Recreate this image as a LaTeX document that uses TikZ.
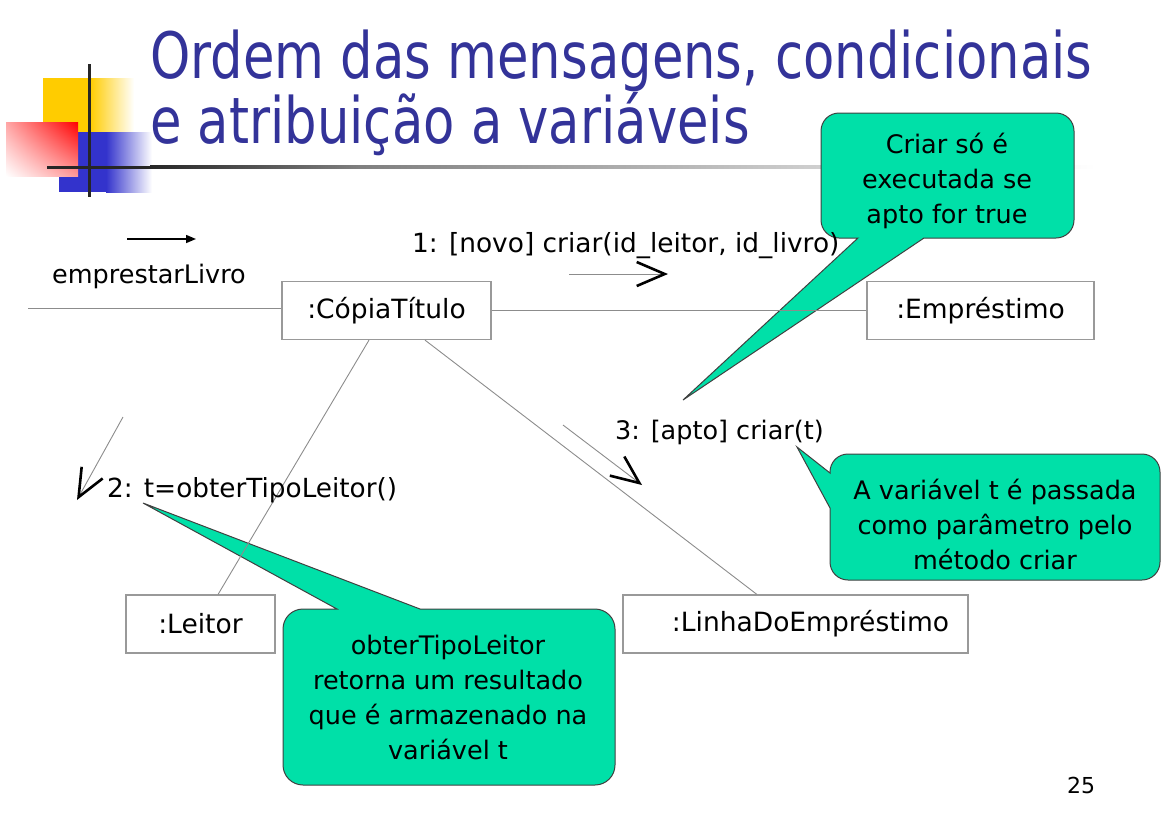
\documentclass[tikz,border=0pt]{standalone}
\usepackage{fontspec}
\setmainfont{DejaVu Sans}
\newfontfamily\headfont{DejaVu Sans}[FakeStretch=0.8]
\usetikzlibrary{arrows.meta,shadings}
\definecolor{headblue}{RGB}{51,51,153}
\definecolor{notegreen}{RGB}{0,224,168}
\definecolor{logoyellow}{RGB}{255,204,0}
\definecolor{logoblue}{RGB}{51,51,204}
\definecolor{logored}{RGB}{255,0,0}
\definecolor{boxgray}{RGB}{153,153,153}

\begin{document}
\begin{tikzpicture}[x=1pt,y=-1pt,
  every node/.style={inner sep=0pt, font=\fontsize{25.5}{35}\selectfont},
  objbox/.style={draw=boxgray, line width=1.2pt, fill=white, minimum height=58pt, inner sep=0pt,
    font=\fontsize{26.5}{35}\selectfont},
  link/.style={draw=black!45, line width=0.9pt},
  msgline/.style={draw=black!45, line width=0.9pt,
    -{Straight Barb[length=28pt,width=24pt,line width=2.6pt,color=black]}},
  note/.style={fill=notegreen, draw=black!75, line width=1pt},
  notetext/.style={align=center, text=black, font=\fontsize{25.5}{35}\selectfont},
  msglabel/.style={anchor=base west, text=black},
  headline/.style={anchor=base west, text=headblue, font=\headfont\fontsize{64}{64}\selectfont}]

\useasboundingbox (0,0) rectangle (1163,812);

% ---- slide decoration ----
\fill[logoyellow] (43,78) rectangle (90,132);
\shade[left color=logoyellow, right color=white] (90,78) rectangle (134,132);
\fill[logoblue] (59,132) rectangle (106,192);
\shade[left color=logoblue, right color=white] (106,132) rectangle (152,192);
\shade[upper left=red!35, upper right=logored, lower left=white, lower right=red!40]
  (6,122) rectangle (78,176);
\draw[line width=3pt, black!85] (89,64) -- (89,197);
\fill[black!85] (47,165.5) rectangle (150,168.5);
\shade[left color=black!85, right color=black!50] (150,165.5) rectangle (360,168.5);
\shade[left color=black!50, right color=white] (360,165.5) rectangle (1095,168.5);

\node[headline] (title1) at (150,78) {Ordem das mensagens, condicionais};
\node[headline] (title2) at (150,143) {e atribuição a variáveis};

% ---- notes (rounded boxes with sharp pointers) ----
\coordinate (tip1) at (683,400);
\coordinate (tip2) at (797,447);
\coordinate (tip3) at (143,503);

\path[note] (947,113) [rounded corners=18pt] -- (1074,113) -- (1074,238)
  [sharp corners] -- (924,238) -- (tip1) -- (858,238)
  [rounded corners=18pt] -- (821,238) -- (821,113) -- cycle;
\node[notetext] (note1) at (947,181) {Criar só é\\executada se\\apto for true};

\path[note] (995,454) [rounded corners=18pt] -- (1160,454) -- (1160,580) -- (830,580)
  [sharp corners] -- (830,508) -- (tip2) -- (830,473)
  [rounded corners=18pt] -- (830,454) -- cycle;
\node[notetext] (note2) at (995,524) {A variável t é passada\\como parâmetro pelo\\método criar};

\path[note] (615,700) [rounded corners=20pt] -- (615,785) -- (283,785) -- (283,609)
  [sharp corners] -- (337,609) -- (tip3) -- (420,609)
  [rounded corners=20pt] -- (615,609) -- cycle;
\node[notetext] (note3) at (448,697) {obterTipoLeitor\\retorna um resultado\\que é armazenado na\\variável t};

% ---- objects ----
\node[objbox, minimum width=209pt] (copia) at (386.5,310.5) {:CópiaTítulo};
\node[objbox, minimum width=227pt] (emprestimo) at (980.5,310.5) {:Empréstimo};
\node[objbox, minimum width=149pt] (leitor) at (200.5,624) {:Leitor};
\node[objbox, minimum width=345pt] (linha) at (795.5,624) {\hspace*{30pt}:LinhaDoEmpréstimo};

% ---- links ----
\coordinate (entry) at (28,308);
\draw[link] (entry) -- (entry -| copia.west);
\draw[link] (copia) -- (emprestimo);
\draw[link] (copia) -- (leitor);
\draw[link] (copia) -- (linha);

% ---- messages ----
\coordinate (e1) at (127,239);
\coordinate (e2) at (196,239);
\draw[line width=1.5pt, -{Triangle[length=10pt,width=8pt]}] (e1) -- (e2);
\node[msglabel] (lbl0) at (52,283) {emprestarLivro};

\coordinate (m1s) at (569,274);
\coordinate (m1e) at (668,274);
\draw[msgline] (m1s) -- (m1e);
\node[msglabel, font=\fontsize{26.4}{35}\selectfont] (lbl1) at (412,252) {1: [novo] criar(id\_leitor, id\_livro)};

\coordinate (m2s) at (123,417);
\coordinate (m2e) at (77,500);
\draw[msgline] (m2s) -- (m2e);
\node[msglabel, font=\fontsize{26.3}{35}\selectfont] (lbl2) at (107,497) {2: t=obterTipoLeitor()};

\coordinate (m3s) at (563,425);
\coordinate (m3e) at (642,485);
\draw[msgline] (m3s) -- (m3e);
\node[msglabel] (lbl3) at (615,439) {3: [apto] criar(t)};

\node[anchor=base west, font=\fontsize{22}{22}\selectfont] (pagenum) at (1067,793) {25};
\end{tikzpicture}
\end{document}
